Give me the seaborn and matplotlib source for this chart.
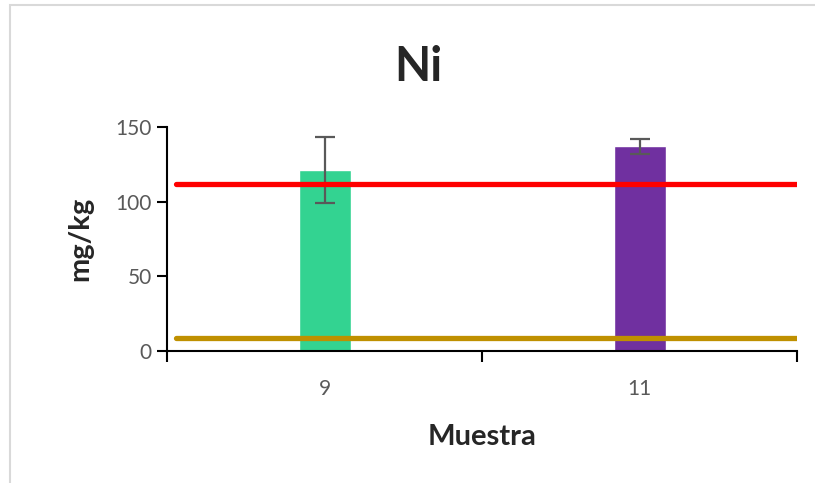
import matplotlib
matplotlib.use("Agg")
import matplotlib.pyplot as plt
import matplotlib.patches as mpatches
import seaborn as sns
import pandas as pd

# data
samples = ["9", "11"]
values = [121, 137]
errors = [22, 5]
colors = ["#33d391", "#7030a0"]
limit_red = 112
limit_gold = 9

df = pd.DataFrame({"Muestra": samples, "mg/kg": values})

sns.set_style("white")
plt.rcParams['font.family'] = ['Lato', 'DejaVu Sans']

fig = plt.figure(figsize=(8.15, 4.83), dpi=100)
ax = fig.add_axes([0.2049, 0.2733, 0.7731, 0.4638])

sns.barplot(data=df, x="Muestra", y="mg/kg", hue="Muestra", palette=colors,
            width=0.165, legend=False, ax=ax, saturation=1)
ax.errorbar(range(len(samples)), values, yerr=errors, fmt="none",
            ecolor="#595959", elinewidth=1.6, capsize=7, capthick=1.6)

ax.axhline(limit_red, xmin=0.014, xmax=1, color="#ff0000", lw=3.8)
ax.axhline(limit_gold, xmin=0.014, xmax=1, color="#bf9000", lw=3.8)

ax.set_xlim(-0.5, 1.5)
ax.set_ylim(0, 150)
ax.set_yticks([0, 50, 100, 150])
ax.set_xticks([0, 1])
ax.set_xticklabels(samples)
ax.set_xticks([-0.5, 0.5, 1.5], minor=True)
ax.tick_params(axis="x", which="major", length=0, pad=20, labelsize=15, labelcolor="#595959")
ax.tick_params(axis="x", which="minor", length=8, width=1.5, color="black", direction="out", bottom=True)
ax.tick_params(axis="y", length=7, width=1.5, color="black", direction="out", left=True,
               labelsize=15, labelcolor="#595959", pad=4)

for s in ["top", "right"]:
    ax.spines[s].set_visible(False)
for s in ["left", "bottom"]:
    ax.spines[s].set_color("black")
    ax.spines[s].set_linewidth(1.5)

ax.set_xlabel("Muestra", fontsize=21, fontweight="bold", labelpad=18)
ax.set_ylabel("mg/kg", fontsize=21, fontweight="bold", labelpad=16)
fig.text(0.513, 0.862, "Ni", ha="center", va="center", fontsize=34, fontweight="bold")

fig.patches.append(mpatches.Rectangle((10 / 815, -0.05), 1.2, 1 - 5 / 483 + 0.05,
                                      transform=fig.transFigure, fill=False,
                                      edgecolor="#d9d9d9", lw=1.5))

fig.savefig("out.png", dpi=100)
